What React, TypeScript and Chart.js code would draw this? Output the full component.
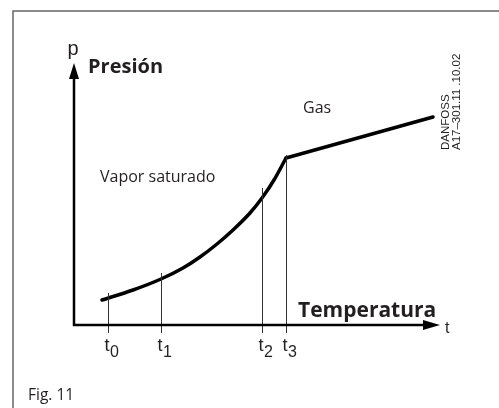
import React, { useEffect, useRef } from "react";
import { Chart, registerables } from "chart.js";

Chart.register(...registerables);

// Saturation curve (vapor saturado), x = temperature units, y = pressure units
const curveT = [28, 59, 87, 109, 126, 143, 159, 176, 188, 200, 212];
const curveP = [25, 35, 46, 57, 68, 81, 95, 112, 127, 145, 167];
// Gas region (straight line)
const gasT = [212, 359];
const gasP = [167, 208];
// Temperature markers
const tickValues = [34, 87, 188, 212];
const tickTops = [32, 52, 137, 170];
const tickSubs = ["0", "1", "2", "3"];

const X_MAX = 366;
const Y_MAX = 262;

const INK = "#231f20";

const overlay = {
  id: "overlay",
  afterDraw(chart: any) {
    const ctx = chart.ctx as CanvasRenderingContext2D;
    const xs = chart.scales.x;
    const ys = chart.scales.y;
    const x0 = xs.getPixelForValue(0);
    const y0 = ys.getPixelForValue(0);
    const xEnd = xs.getPixelForValue(X_MAX);
    const yEnd = ys.getPixelForValue(Y_MAX);
    ctx.save();

    // frame
    ctx.strokeStyle = "#666";
    ctx.lineWidth = 1.5;
    ctx.beginPath();
    ctx.moveTo(13, 408);
    ctx.lineTo(13, 11);
    ctx.lineTo(499, 11);
    ctx.stroke();

    // tick lines
    ctx.strokeStyle = "#333";
    ctx.lineWidth = 1;
    tickValues.forEach((v, i) => {
      const px = Math.round(xs.getPixelForValue(v)) + 0.5;
      ctx.beginPath();
      ctx.moveTo(px, ys.getPixelForValue(tickTops[i]));
      ctx.lineTo(px, y0 + 8);
      ctx.stroke();
    });

    // axes
    ctx.strokeStyle = "#000";
    ctx.fillStyle = "#000";
    ctx.lineWidth = 2.5;
    ctx.beginPath();
    ctx.moveTo(x0, y0);
    ctx.lineTo(x0, yEnd + 14);
    ctx.moveTo(x0 - 1.25, y0);
    ctx.lineTo(xEnd - 16, y0);
    ctx.stroke();
    // arrowheads
    ctx.beginPath();
    ctx.moveTo(x0, yEnd);
    ctx.lineTo(x0 - 5, yEnd + 16);
    ctx.lineTo(x0 + 5, yEnd + 16);
    ctx.closePath();
    ctx.fill();
    ctx.beginPath();
    ctx.moveTo(xEnd, y0);
    ctx.lineTo(xEnd - 17, y0 - 5);
    ctx.lineTo(xEnd - 17, y0 + 5);
    ctx.closePath();
    ctx.fill();

    // axis letters
    ctx.fillStyle = INK;
    ctx.textBaseline = "alphabetic";
    ctx.font = "20px 'Liberation Sans', Arial, sans-serif";
    ctx.textAlign = "center";
    ctx.fillText("p", x0 - 1, yEnd - 8);
    ctx.font = "16px 'Liberation Sans', Arial, sans-serif";
    ctx.textAlign = "left";
    ctx.fillText("t", xEnd + 5, y0 + 8);

    // tick labels
    tickValues.forEach((v, i) => {
      const px = xs.getPixelForValue(v);
      ctx.font = "18px 'Liberation Sans', Arial, sans-serif";
      ctx.textAlign = "center";
      ctx.fillText("t", px - 1, y0 + 26);
      ctx.font = "16px 'Liberation Sans', Arial, sans-serif";
      ctx.textAlign = "left";
      ctx.fillText(tickSubs[i], px + 2, y0 + 32);
    });

    // titles
    ctx.textAlign = "left";
    ctx.font = "bold 20px 'Open Sans', sans-serif";
    ctx.fillText("Presión", 88, 73);
    ctx.font = "bold 21px 'Open Sans', sans-serif";
    ctx.fillText("Temperatura", 298, 317);
    ctx.font = "16px 'Open Sans', sans-serif";
    ctx.fillText("Vapor saturado", 100, 182);
    ctx.fillText("Gas", 303, 113);
    ctx.font = "15.5px 'Open Sans', sans-serif";
    ctx.fillText("Fig. 11", 28, 400);

    // rotated code
    ctx.save();
    ctx.translate(449, 150);
    ctx.rotate(-Math.PI / 2);
    ctx.font = "11.5px 'Liberation Sans', Arial, sans-serif";
    ctx.fillText("DANFOSS", 0, 0);
    ctx.fillText("A17\u2013301.11 .10.02", 0, 11);
    ctx.restore();

    ctx.restore();
  },
};

export default function App() {
  const ref = useRef<HTMLCanvasElement | null>(null);
  useEffect(() => {
    if (!ref.current) return;
    const chart = new Chart(ref.current, {
      type: "scatter",
      data: {
        datasets: [
          {
            data: curveT.map((t, i) => ({ x: t, y: curveP[i] })),
            showLine: true,
            borderColor: "#000",
            borderWidth: 3.5,
            pointRadius: 0,
            cubicInterpolationMode: "monotone",
            borderCapStyle: "round",
            clip: false as any,
          },
          {
            data: gasT.map((t, i) => ({ x: t, y: gasP[i] })),
            showLine: true,
            borderColor: "#000",
            borderWidth: 3.5,
            pointRadius: 0,
            tension: 0,
            borderCapStyle: "round",
            clip: false as any,
          },
        ],
      },
      options: {
        responsive: false,
        animation: false,
        layout: { padding: { left: 74, right: 59, top: 63, bottom: 83 } },
        scales: {
          x: { type: "linear", min: 0, max: X_MAX, display: false },
          y: { type: "linear", min: 0, max: Y_MAX, display: false },
        },
        plugins: { legend: { display: false }, tooltip: { enabled: false } },
      },
      plugins: [overlay],
    });
    return () => chart.destroy();
  }, []);
  return (
    <div style={{ position: "fixed", left: 0, top: 0, width: 499, height: 408, background: "#fff" }}>
      <canvas ref={ref} width={499} height={408} style={{ display: "block" }} />
    </div>
  );
}
